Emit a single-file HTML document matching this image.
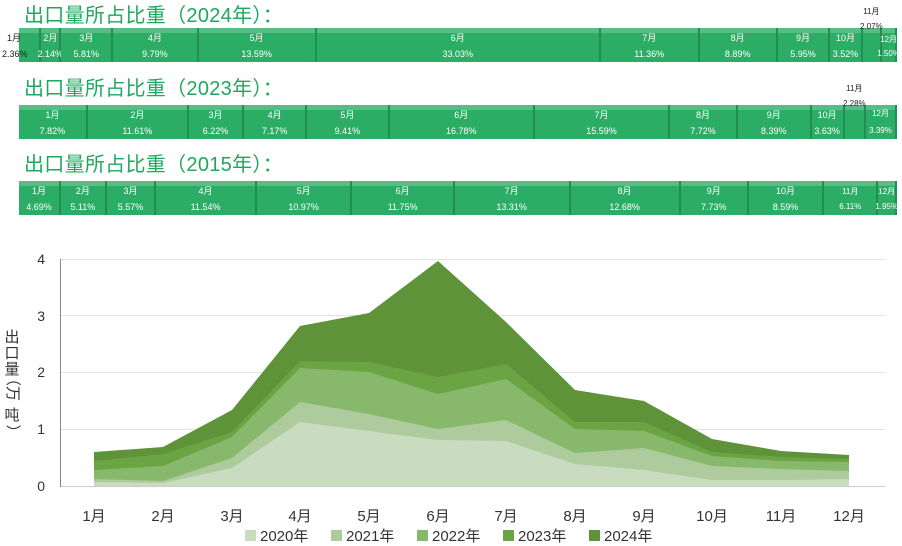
<!DOCTYPE html>
<html><head><meta charset="utf-8"><style>
*{margin:0;padding:0;box-sizing:border-box}
body{width:902px;height:546px;background:#fff;position:relative;overflow:hidden;font-family:"Liberation Sans","Noto Sans CJK SC",sans-serif}
.t{position:absolute;left:24px;font-size:20px;color:#1fa85c;line-height:22px;white-space:nowrap;letter-spacing:0.3px}
.bar{position:absolute;left:19px;width:878px;height:34px;display:flex}
.s{position:relative;height:100%;background:#2bad66;border-right:2px solid #218f52;color:#fff;font-size:9px;text-align:center;white-space:nowrap;overflow:visible}
.s:before{content:"";position:absolute;left:0;right:0;top:0;height:5px;background:#57bd85}
.s .m{position:absolute;left:-10px;right:-10px;top:3px}
.s .p{position:absolute;left:-10px;right:-10px;top:21px}
.k{color:#222}
</style></head><body>
<div class="t" style="top:5px">出口量所占比重（2024年）：</div>
<div class="bar" style="top:28px">
<div class="s" style="flex:2.36"><span class="m k" style="left:-12px;right:auto">1月</span><span class="p k" style="left:-17px;right:auto">2.36%</span></div>
<div class="s" style="flex:2.14"><span class="m">2月</span><span class="p">2.14%</span></div>
<div class="s" style="flex:5.81"><span class="m">3月</span><span class="p">5.81%</span></div>
<div class="s" style="flex:9.79"><span class="m">4月</span><span class="p">9.79%</span></div>
<div class="s" style="flex:13.59"><span class="m">5月</span><span class="p">13.59%</span></div>
<div class="s" style="flex:33.03"><span class="m">6月</span><span class="p">33.03%</span></div>
<div class="s" style="flex:11.36"><span class="m">7月</span><span class="p">11.36%</span></div>
<div class="s" style="flex:8.89"><span class="m">8月</span><span class="p">8.89%</span></div>
<div class="s" style="flex:5.95"><span class="m">9月</span><span class="p">5.95%</span></div>
<div class="s" style="flex:3.52"><span class="m">10月</span><span class="p">3.52%</span></div>
<div class="s" style="flex:2.07"><span class="m k" style="top:-22px;font-size:8px">11月</span><span class="p k" style="top:-6px;font-size:8px">2.07%</span></div>
<div class="s" style="flex:1.5"><span class="m" style="top:6px;font-size:8px">12月</span><span class="p" style="font-size:8px">1.50%</span></div>
</div>
<div class="t" style="top:78px">出口量所占比重（2023年）：</div>
<div class="bar" style="top:105px">
<div class="s" style="flex:7.82"><span class="m">1月</span><span class="p">7.82%</span></div>
<div class="s" style="flex:11.61"><span class="m">2月</span><span class="p">11.61%</span></div>
<div class="s" style="flex:6.22"><span class="m">3月</span><span class="p">6.22%</span></div>
<div class="s" style="flex:7.17"><span class="m">4月</span><span class="p">7.17%</span></div>
<div class="s" style="flex:9.41"><span class="m">5月</span><span class="p">9.41%</span></div>
<div class="s" style="flex:16.78"><span class="m">6月</span><span class="p">16.78%</span></div>
<div class="s" style="flex:15.59"><span class="m">7月</span><span class="p">15.59%</span></div>
<div class="s" style="flex:7.72"><span class="m">8月</span><span class="p">7.72%</span></div>
<div class="s" style="flex:8.39"><span class="m">9月</span><span class="p">8.39%</span></div>
<div class="s" style="flex:3.63"><span class="m">10月</span><span class="p">3.63%</span></div>
<div class="s" style="flex:2.28"><span class="m k" style="top:-22px;font-size:8px">11月</span><span class="p k" style="top:-6px;font-size:8px">2.28%</span></div>
<div class="s" style="flex:3.39"><span class="m" style="font-size:8px">12月</span><span class="p" style="font-size:8px">3.39%</span></div>
</div>
<div class="t" style="top:154px">出口量所占比重（2015年）：</div>
<div class="bar" style="top:181px">
<div class="s" style="flex:4.69"><span class="m">1月</span><span class="p">4.69%</span></div>
<div class="s" style="flex:5.11"><span class="m">2月</span><span class="p">5.11%</span></div>
<div class="s" style="flex:5.57"><span class="m">3月</span><span class="p">5.57%</span></div>
<div class="s" style="flex:11.54"><span class="m">4月</span><span class="p">11.54%</span></div>
<div class="s" style="flex:10.97"><span class="m">5月</span><span class="p">10.97%</span></div>
<div class="s" style="flex:11.75"><span class="m">6月</span><span class="p">11.75%</span></div>
<div class="s" style="flex:13.31"><span class="m">7月</span><span class="p">13.31%</span></div>
<div class="s" style="flex:12.68"><span class="m">8月</span><span class="p">12.68%</span></div>
<div class="s" style="flex:7.73"><span class="m">9月</span><span class="p">7.73%</span></div>
<div class="s" style="flex:8.59"><span class="m">10月</span><span class="p">8.59%</span></div>
<div class="s" style="flex:6.11"><span class="m" style="top:5px;font-size:8px">11月</span><span class="p" style="font-size:8px">6.11%</span></div>
<div class="s" style="flex:1.95"><span class="m" style="top:5px;font-size:8px">12月</span><span class="p" style="font-size:8px">1.95%</span></div>
</div>
<svg style="position:absolute;left:0;top:0" width="902" height="546" font-family="Liberation Sans, Noto Sans CJK SC, sans-serif">
<g stroke="#e2e2e2" stroke-width="1">
<line x1="60" x2="885" y1="259.5" y2="259.5"/><line x1="60" x2="885" y1="315.5" y2="315.5"/>
<line x1="60" x2="885" y1="372.5" y2="372.5"/><line x1="60" x2="885" y1="429.5" y2="429.5"/>
<line x1="60" x2="885" y1="486.5" y2="486.5" stroke="#ccc"/>
</g>
<line x1="60.5" x2="60.5" y1="259" y2="487" stroke="#888"/>
<polygon fill="#5e933a" points="94,452 163,447 232,410 300,326 369,313 438,261 506,322 575,390 644,401 712,439 781,451 849,455 849,486 94,486"/>
<polygon fill="#6aa443" points="94,461 163,454 232,432 300,361 369,362 438,377 506,364 575,422 644,422 712,452 781,457 849,459 849,486 94,486"/>
<polygon fill="#88b86c" points="94,470 163,466 232,437 300,368 369,372 438,394 506,379 575,429 644,431 712,456 781,461 849,462 849,486 94,486"/>
<polygon fill="#adcb9d" points="94,479 163,481 232,458 300,402 369,414 438,429 506,420 575,453 644,448 712,466 781,469 849,471 849,486 94,486"/>
<polygon fill="#c9dcc0" points="94,482 163,483 232,468 300,422 369,431 438,440 506,441 575,464 644,470 712,480 781,480 849,479 849,486 94,486"/>
<g font-size="14" fill="#333" text-anchor="end">
<text x="45" y="264">4</text><text x="45" y="321">3</text><text x="45" y="377">2</text><text x="45" y="434">1</text><text x="45" y="491">0</text>
</g>
<g font-size="15" fill="#333" text-anchor="middle">
<text x="94" y="521">1月</text><text x="163" y="521">2月</text><text x="232" y="521">3月</text><text x="300" y="521">4月</text><text x="369" y="521">5月</text><text x="438" y="521">6月</text><text x="506" y="521">7月</text><text x="575" y="521">8月</text><text x="644" y="521">9月</text><text x="712" y="521">10月</text><text x="781" y="521">11月</text><text x="849" y="521">12月</text>
</g>
<g font-size="15" fill="#333" text-anchor="middle">
<text x="12" y="342">出</text><text x="12" y="358">口</text><text x="12" y="374">量</text>
<text x="12" y="390" transform="rotate(90 12 386)">（万</text><text x="12" y="420">吨</text><text x="12" y="436" transform="rotate(90 12 432)">）</text>
</g>
<g font-size="15" fill="#333">
<rect x="245" y="530" width="11" height="11" fill="#c9dcc0"/><text x="260" y="541">2020年</text>
<rect x="331" y="530" width="11" height="11" fill="#adcb9d"/><text x="346" y="541">2021年</text>
<rect x="417" y="530" width="11" height="11" fill="#88b86c"/><text x="432" y="541">2022年</text>
<rect x="503" y="530" width="11" height="11" fill="#6aa443"/><text x="518" y="541">2023年</text>
<rect x="589" y="530" width="11" height="11" fill="#5e933a"/><text x="604" y="541">2024年</text>
</g>
</svg>
</body></html>
